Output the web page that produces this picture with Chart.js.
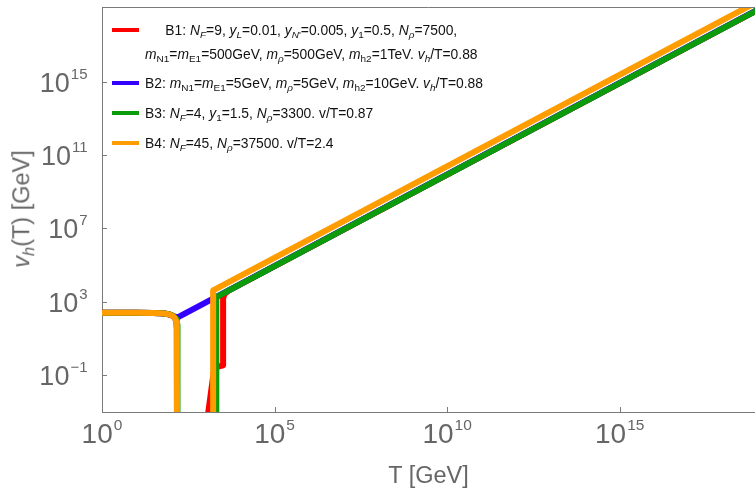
<!DOCTYPE html>
<html>
<head>
<meta charset="utf-8">
<title>v_h(T)</title>
<script src="https://cdn.jsdelivr.net/npm/chart.js@4.4.1/dist/chart.umd.min.js"></script>
<style>
  html, body { margin: 0; padding: 0; background: #fff; }
  #wrap { position: relative; width: 755px; height: 490px; overflow: hidden;
          font-family: "Liberation Sans", Arial, Helvetica, sans-serif; }
  #c { position: absolute; left: 0; top: 0; }
  .lg { position: absolute; font-size: 13.85px; line-height: 24.3px; color: #111;
        white-space: nowrap; text-align: center; }
  .sw { position: absolute; left: 112px; width: 27px; height: 4px; }
  sub { font-size: 72%; vertical-align: -0.3em; line-height: 0; }
  .ax { position: absolute; font-size: 23.5px; line-height: 1; color: #666; white-space: nowrap;
        transform: translate(-50%, -50%); }
  .ax sub { font-size: 70%; }
</style>
</head>
<body>
<div id="wrap">
  <canvas id="c" width="755" height="490"></canvas>

  <div class="sw" id="sw0" style="top:28px"></div>
  <div class="lg" style="left:145px; top:18px">B1: <i>N</i><sub><i>F</i></sub>=9, <i>y</i><sub><i>L</i></sub>=0.01, <i>y</i><sub><i>N</i>'</sub>=0.005, <i>y</i><sub>1</sub>=0.5, <i>N</i><sub><i>ρ</i></sub>=7500,<br><i>m</i><sub>N1</sub>=<i>m</i><sub>E1</sub>=500GeV, <i>m</i><sub><i>ρ</i></sub>=500GeV, <i>m</i><sub>h2</sub>=1TeV. <i>v</i><sub><i>h</i></sub>/T=0.88</div>

  <div class="sw" id="sw1" style="top:80.7px"></div>
  <div class="lg" style="left:145px; top:70.7px">B2: <i>m</i><sub>N1</sub>=<i>m</i><sub>E1</sub>=5GeV, <i>m</i><sub><i>ρ</i></sub>=5GeV, <i>m</i><sub>h2</sub>=10GeV. <i>v</i><sub><i>h</i></sub>/T=0.88</div>

  <div class="sw" id="sw2" style="top:110.7px"></div>
  <div class="lg" style="left:145px; top:100.7px">B3: <i>N</i><sub><i>F</i></sub>=4, <i>y</i><sub>1</sub>=1.5, <i>N</i><sub><i>ρ</i></sub>=3300. v/T=0.87</div>

  <div class="sw" id="sw3" style="top:140.7px"></div>
  <div class="lg" style="left:145px; top:130.7px">B4: <i>N</i><sub><i>F</i></sub>=45, <i>N</i><sub><i>ρ</i></sub>=37500. v/T=2.4</div>

  <div class="ax" style="left:428.5px; top:476px">T [GeV]</div>
  <div class="ax" style="left:21.7px; top:208.5px; transform: translate(-50%, -50%) rotate(-90deg)"><i>v</i><sub><i>h</i></sub>(T) [GeV]</div>
</div>

<script>
"use strict";

const $ = (id) => document.getElementById(id);

// axis ranges / tick positions
const T_MIN = 1, T_MAX = 8.3e18;
const V_MIN = 9.3e-4, V_MAX = 1.23e19;
const T_TICKS = [1e0, 1e5, 1e10, 1e15];
const V_TICKS = [1e-1, 1e3, 1e7, 1e11, 1e15];

// B1: red
const T_B1 = [1, 10, 30, 50, 70, 90, 110, 125, 135, 142, 146, 148, 149.5, 735, 1800, 3230, 3230, 3500, 4500, 1e19];
const V_B1 = [246, 245, 241, 232, 218, 197, 167, 136, 107, 79, 54, 35, 1e-6, 1e-6, 0.25, 0.33, 1500, 2500, 3800, 8.5e18];
// B2: blue (no transition, dips then grows)
const T_B2 = [1, 10, 30, 50, 70, 90, 110, 130, 150, 166, 1e19];
const V_B2 = [246, 245, 241, 232, 218, 197, 167, 148, 140, 146, 8.8e18];
// B3: green
const T_B3 = [1, 10, 31, 52, 72, 93, 114, 129, 140, 147, 151, 153, 154.5, 2050, 2050, 1e19];
const V_B3 = [246, 245, 241, 232, 218, 197, 167, 136, 107, 79, 54, 35, 1e-6, 1e-6, 1740, 8.5e18];
// B4: orange
const T_B4 = [1, 10, 30, 50, 70, 90, 110, 125, 135, 142, 146, 148, 149.5, 1660, 1660, 1e19];
const V_B4 = [246, 245, 241, 232, 218, 197, 167, 136, 107, 79, 54, 35, 1e-6, 1e-6, 4070, 2.45e19];

const NAMES = ["B1", "B2", "B3", "B4"];
const COLORS = ["#ff0000", "#3300ff", "#0b9b0b", "#ff9d00"];
const SERIES = [[T_B1, V_B1], [T_B2, V_B2], [T_B3, V_B3], [T_B4, V_B4]];
const AXIS = "#7a7a7a", LABEL = "#666";

COLORS.forEach((c, i) => ($("sw" + i).style.background = c));

const pts = (T, V) => T.map((t, i) => ({ x: t, y: V[i] }));

// "10" with a raised exponent, Mathematica style
function pow10(ctx, exp, x, base, align, big, small) {
  ctx.font = big + "px 'Liberation Sans', Arial, sans-serif";
  const w10 = ctx.measureText("10").width;
  ctx.font = small + "px 'Liberation Sans', Arial, sans-serif";
  const we = ctx.measureText(exp).width;
  const total = w10 + 1 + we;
  const left = align === "center" ? x - total / 2 : x - total;
  ctx.textAlign = "left";
  ctx.textBaseline = "alphabetic";
  ctx.font = big + "px 'Liberation Sans', Arial, sans-serif";
  ctx.fillText("10", left, base);
  ctx.font = small + "px 'Liberation Sans', Arial, sans-serif";
  ctx.fillText(exp, left + w10 + 1, base - 13);
}

const expOf = (v) => { const e = Math.round(Math.log10(v)); return e < 0 ? "\u2212" + (-e) : String(e); };

// frame top line, inward ticks and labels
const framePlugin = {
  id: "frame",
  afterDraw(chart) {
    const { ctx, chartArea: a, scales: { x, y } } = chart;
    ctx.save();
    ctx.strokeStyle = AXIS;
    ctx.lineWidth = 1;
    ctx.beginPath();
    ctx.moveTo(a.left, a.top + 0.5); ctx.lineTo(a.right, a.top + 0.5);
    x.ticks.forEach((t) => {
      const px = Math.round(x.getPixelForValue(t.value)) + 0.5;
      ctx.moveTo(px, a.bottom); ctx.lineTo(px, a.bottom - 5);
    });
    y.ticks.forEach((t) => {
      const py = Math.round(y.getPixelForValue(t.value)) + 0.5;
      ctx.moveTo(a.left, py); ctx.lineTo(a.left + 5, py);
    });
    ctx.stroke();
    ctx.fillStyle = LABEL;
    x.ticks.forEach((t) => pow10(ctx, expOf(t.value), x.getPixelForValue(t.value), a.bottom + 30.5, "center", 28, 15.5));
    y.ticks.forEach((t) => pow10(ctx, expOf(t.value), 87.5, y.getPixelForValue(t.value) + 10, "right", 27, 15));
    ctx.restore();
  },
};

new Chart($("c"), {
  type: "line",
  data: {
    datasets: SERIES.map(([T, V], i) => ({
      label: NAMES[i], data: pts(T, V),
      borderColor: COLORS[i], borderWidth: 6, pointRadius: 0, tension: 0,
      borderJoinStyle: "round", borderCapStyle: "round",
      order: 3 - i,            // B4 on top, B1 at the bottom
      clip: 0,
    })),
  },
  options: {
    responsive: false, animation: false, events: [],
    layout: { padding: { left: 102, top: 7, right: 0, bottom: 78 } },
    plugins: { legend: { display: false }, tooltip: { enabled: false } },
    scales: {
      x: {
        type: "logarithmic", min: T_MIN, max: T_MAX,
        afterBuildTicks: (s) => { s.ticks = T_TICKS.map((v) => ({ value: v })); },
        ticks: { display: false },
        grid: { display: false, drawTicks: false },
        border: { display: true, color: AXIS, width: 1 },
      },
      y: {
        type: "logarithmic", min: V_MIN, max: V_MAX,
        afterBuildTicks: (s) => { s.ticks = V_TICKS.map((v) => ({ value: v })); },
        ticks: { display: false },
        grid: { display: false, drawTicks: false },
        border: { display: true, color: AXIS, width: 1 },
      },
    },
  },
  plugins: [framePlugin],
});
</script>
</body>
</html>
